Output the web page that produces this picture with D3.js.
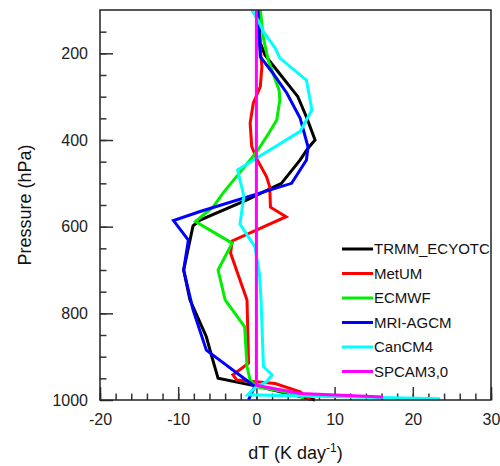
<!DOCTYPE html>
<html>
<head>
<meta charset="utf-8">
<script src="https://cdn.jsdelivr.net/npm/d3@7"></script>
<style>
  body { margin: 0; background: #fff; }
  svg { font-family: "Liberation Sans", Arial, Helvetica, sans-serif; }
</style>
</head>
<body>
<svg id="chart" width="500" height="466"></svg>
<script>
// heating rate profiles (pressure hPa / dT K day-1)
const seriesNames = ["TRMM_ECYOTC", "MetUM", "ECMWF", "MRI-AGCM", "CanCM4", "SPCAM3,0"];
const seriesColors = ["#000000", "#ff0000", "#00ee00", "#0000ff", "#00ffff", "#ff00ff"];

const trmmP = [100, 176, 204, 243, 300, 347, 400, 419, 446, 500, 538, 585, 598, 700, 769, 854, 900, 950, 968, 1000];
const trmmT = [0.2, 0.5, 1.1, 2.8, 5.3, 6.4, 7.5, 6.6, 5.6, 3.2, -1.2, -7.2, -8.1, -9.3, -8.5, -6.4, -5.7, -4.9, 0, 7.5];

const metumP = [100, 150, 231, 277, 315, 361, 415, 442, 485, 508, 555, 577, 633, 661, 723, 769, 915, 942, 954, 962, 981, 1000];
const metumT = [0, 0.3, 0.7, 0.5, -0.4, -0.8, -0.6, 0, 1.3, 1.7, 1.8, 3.8, -3.1, -3.3, -2.1, -1.2, -1.0, -3.0, -2.5, 2.4, 5.6, 6.9];

const ecmwfP = [100, 165, 215, 285, 308, 354, 384, 423, 446, 523, 554, 588, 638, 700, 769, 831, 923, 954, 969, 988, 1000];
const ecmwfT = [0.5, 0.9, 1.5, 2.9, 3.0, 2.6, 1.6, 0.2, -0.8, -4.3, -5.5, -7.8, -3.1, -4.9, -4.0, -1.5, -1.2, -0.8, 0, 5.6, 6.0];

const mriP = [100, 208, 243, 292, 350, 416, 446, 500, 565, 586, 631, 700, 792, 885, 969, 999];
const mriT = [0.2, 0.5, 2.0, 3.9, 5.6, 6.6, 6.4, 4.5, -7.2, -10.6, -8.7, -9.3, -8.1, -6.4, -0.2, -1.0];

const cancmP = [100, 123, 150, 188, 211, 262, 331, 380, 442, 469, 530, 594, 646, 710, 770, 923, 942, 958, 969, 988, 997];
const cancmT = [-0.6, 0.2, 0.9, 2.4, 3.0, 6.4, 7.1, 5.6, 0, -2.4, -1.6, -2.1, -0.2, 0.4, 0.6, 0.9, 2.0, 1.3, 0, -1.1, 23.5];

const spcamP = [100, 966, 985, 993];
const spcamT = [0, 0, 5.6, 16.2];

const xTicks = [-20, -10, 0, 10, 20, 30];
const yTicks = [200, 400, 600, 800, 1000];

const profiles = [
    {P: trmmP, T: trmmT},
    {P: metumP, T: metumT},
    {P: ecmwfP, T: ecmwfT},
    {P: mriP, T: mriT},
    {P: cancmP, T: cancmT},
    {P: spcamP, T: spcamT}
];

const margin = {top: 10, right: 9, bottom: 66, left: 100},
    width = 500 - margin.left - margin.right,
    height = 466 - margin.top - margin.bottom;

const svg = d3.select("#chart");
const g = svg.append("g")
    .attr("transform", "translate(" + margin.left + "," + margin.top + ")");

const x = d3.scaleLinear().domain([-20, 30]).range([0, width]);
const y = d3.scaleLinear().domain([100, 1000]).range([0, height]);

// plain hyphen, no thousands comma
const plain = d => String(d);

// minor ticks first, then the labelled ones
g.append("g")
    .attr("transform", "translate(0," + height + ")")
    .call(d3.axisBottom(x).tickValues(d3.range(-20, 31, 2)).tickSize(-6.5).tickFormat(""))
    .call(a => a.select(".domain").remove());
g.append("g")
    .attr("class", "xaxis")
    .attr("transform", "translate(0," + height + ")")
    .call(d3.axisBottom(x).tickValues(xTicks).tickSize(-13).tickPadding(14).tickFormat(plain))
    .call(a => a.select(".domain").remove());

g.append("g")
    .call(d3.axisLeft(y).tickValues(d3.range(150, 1000, 50)).tickSize(-6.5).tickFormat(""))
    .call(a => a.select(".domain").remove());
g.append("g")
    .attr("class", "yaxis")
    .call(d3.axisLeft(y).tickValues(yTicks).tickSize(-13).tickPadding(12).tickFormat(plain))
    .call(a => a.select(".domain").remove());

g.selectAll(".tick line").attr("stroke", "#333").attr("stroke-width", 1.5);
g.selectAll(".xaxis text, .yaxis text")
    .style("font-size", "16px")
    .attr("fill", "#222");

const line = d3.line()
    .x(d => x(d[1]))
    .y(d => y(d[0]));

profiles.forEach(function (s, i) {
    g.append("path")
        .datum(d3.zip(s.P, s.T))
        .attr("fill", "none")
        .attr("stroke", seriesColors[i])
        .attr("stroke-width", 3)
        .attr("stroke-linejoin", "miter")
        .attr("d", line);
});

// frame
g.append("rect")
    .attr("width", width)
    .attr("height", height)
    .attr("fill", "none")
    .attr("stroke", "#222")
    .attr("stroke-width", 1.5);

// legend
const legend = g.append("g").attr("transform", "translate(242,239)");
seriesNames.forEach(function (name, i) {
    const row = legend.append("g").attr("transform", "translate(0," + (i * 24.5) + ")");
    row.append("line")
        .attr("x1", 0).attr("x2", 31)
        .attr("stroke", seriesColors[i])
        .attr("stroke-width", 3);
    row.append("text")
        .attr("x", 32)
        .attr("dy", "0.35em")
        .style("font-size", "15px")
        .attr("fill", "#111")
        .text(name);
});

// axis titles
svg.append("text")
    .attr("transform", "translate(31," + (margin.top + height / 2) + ") rotate(-90)")
    .attr("text-anchor", "middle")
    .style("font-size", "18px")
    .attr("fill", "#111")
    .text("Pressure (hPa)");

const xt = svg.append("text")
    .attr("x", margin.left + width / 2)
    .attr("y", 459)
    .attr("text-anchor", "middle")
    .style("font-size", "18px")
    .attr("fill", "#111");
xt.append("tspan").text("dT (K day");
xt.append("tspan").attr("dy", "-7").style("font-size", "12px").text("-1");
xt.append("tspan").attr("dy", "7").text(")");
</script>
</body>
</html>
